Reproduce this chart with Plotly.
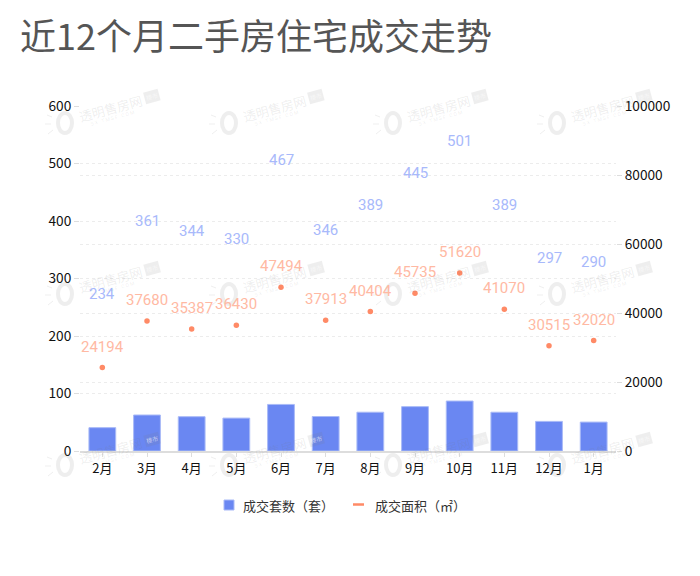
import plotly.graph_objects as go

# Data
months = ['2月', '3月', '4月', '5月', '6月', '7月', '8月', '9月', '10月', '11月', '12月', '1月']
units = [234, 361, 344, 330, 467, 346, 389, 445, 501, 389, 297, 290]
areas = [24194, 37680, 35387, 36430, 47494, 37913, 40404, 45735, 51620, 41070, 30515, 32020]
left_ticks = [0, 100, 200, 300, 400, 500, 600]
right_ticks = [0, 20000, 40000, 60000, 80000, 100000]

# The page body has an 8px margin, so the figure is drawn 8px in from the window corner
W, H = 700, 576
BODY = 8
PLOT_L, PLOT_R, PLOT_T, PLOT_B = 80, 616, 106, 451
BLUE = '#6a87f2'
ORANGE = '#ff8a66'
MARK = 'rgba(120,120,120,0.13)'
CJK = 'Noto Sans CJK SC'
NUM = 'Roboto'


# window pixels to paper coordinates (paper is the plot area)
def px(x):
    return (x - PLOT_L) / (PLOT_R - PLOT_L)


def py(y):
    return (PLOT_B - y) / (PLOT_B - PLOT_T)


def page_text(x, y, text, font, xanchor='center', **kw):
    return dict(x=px(x), y=py(y), xref='paper', yref='paper', xanchor=xanchor, yanchor='middle',
                showarrow=False, text=text, font=font, **kw)


fig = go.Figure()

# Bars sit on their own hidden scale, the labels use the left axis
fig.add_trace(go.Bar(
    x=months, y=units, name='成交套数（套）', yaxis='y3', width=0.6,
    marker=dict(color=BLUE, line=dict(color='#a9baf7', width=1)),
))
fig.add_trace(go.Scatter(
    x=months, y=areas, name='成交面积（㎡）', yaxis='y2', mode='markers',
    marker=dict(color=ORANGE, size=5.5),
))

annotations = []
for m, u in zip(months, units):
    annotations.append(dict(x=m, y=u, xref='x', yref='y', text=str(u), showarrow=False,
                            yshift=22, font=dict(family=NUM, size=15, color='#a8b9fb', weight=400)))
for m, a in zip(months, areas):
    annotations.append(dict(x=m, y=a, xref='x', yref='y2', text=str(a), showarrow=False,
                            yshift=21, font=dict(family=NUM, size=15, color='#ffb9a3', weight=400)))

# Title
annotations.append(page_text(18, 34, '近12个月二手房住宅成交走势',
                             dict(family=CJK, size=36, color='#555555'), xanchor='left'))

# Legend
shapes = [
    dict(type='rect', xref='paper', yref='paper', x0=px(224), x1=px(234), y0=py(510), y1=py(500),
         fillcolor=BLUE, line=dict(color='#a9baf7', width=1)),
    dict(type='line', xref='paper', yref='paper', x0=px(353), x1=px(364), y0=py(504.5), y1=py(504.5),
         line=dict(color=ORANGE, width=2.5)),
]
annotations.append(page_text(241, 505, '成交套数（套）', dict(family=CJK, size=13, color='#333333'), xanchor='left'))
annotations.append(page_text(373, 505, '成交面积（㎡）', dict(family=CJK, size=13, color='#333333'), xanchor='left'))

# Watermark
for wy in [123, 294, 465]:
    for wx in [65, 229, 393, 557]:
        shapes.append(dict(type='circle', xref='paper', yref='paper',
                           x0=px(wx - 7), x1=px(wx + 7), y0=py(wy + 10), y1=py(wy - 10),
                           line=dict(color=MARK, width=4)))
        for x0, y0, x1, y1 in [(-18, -8, -13, -6), (-20, 1, -14, 1), (-17, 11, -12, 7)]:
            shapes.append(dict(type='line', xref='paper', yref='paper',
                               x0=px(wx + x0), x1=px(wx + x1), y0=py(wy + y0), y1=py(wy + y1),
                               line=dict(color=MARK, width=1)))
        annotations.append(page_text(wx + 45, wy - 15, '透明售房网', dict(family=CJK, size=13, color=MARK),
                                     textangle=-15))
        annotations.append(page_text(wx + 47, wy - 5, 'S X . T M S F . C O M', dict(family=NUM, size=5, color=MARK),
                                     textangle=-15))
        annotations.append(page_text(wx + 87, wy - 26, '楼市', dict(family=CJK, size=6, color='rgba(255,255,255,0.6)'),
                                     textangle=-15, bgcolor=MARK, borderpad=1))

fig.update_layout(
    width=W - BODY, height=H - BODY,
    margin=dict(l=PLOT_L - BODY, r=W - PLOT_R, t=PLOT_T - BODY, b=H - PLOT_B, pad=0, autoexpand=False),
    paper_bgcolor='white', plot_bgcolor='rgba(0,0,0,0)',
    showlegend=False,
    annotations=annotations, shapes=shapes,
    xaxis=dict(
        type='category', categoryorder='array', categoryarray=months, range=[-0.5, 11.5],
        showgrid=False, zeroline=False,
        showline=True, linecolor='#dddddd', linewidth=2,
        ticks='outside', ticklen=4, tickcolor='#dddddd',
        tickfont=dict(family=CJK, size=13, color='#111111'),
    ),
    yaxis=dict(
        range=[0, 600], tickvals=left_ticks, showline=False, zeroline=False,
        gridcolor='#ececec', griddash='3px,3px', gridwidth=1,
        ticks='outside', ticklen=5, tickcolor='#dddddd',
        tickfont=dict(family=CJK, size=13.7, color='#111111'),
    ),
    yaxis2=dict(
        range=[0, 100000], tickvals=right_ticks, tickformat='d', overlaying='y', side='right',
        showline=False, zeroline=False,
        gridcolor='#ececec', griddash='3px,3px', gridwidth=1, showgrid=True,
        ticks='outside', ticklen=5, tickcolor='#dddddd',
        tickfont=dict(family=CJK, size=13.7, color='#111111'),
    ),
    yaxis3=dict(range=[0, 3460], overlaying='y', visible=False),
)

fig.write_html('out.html')
